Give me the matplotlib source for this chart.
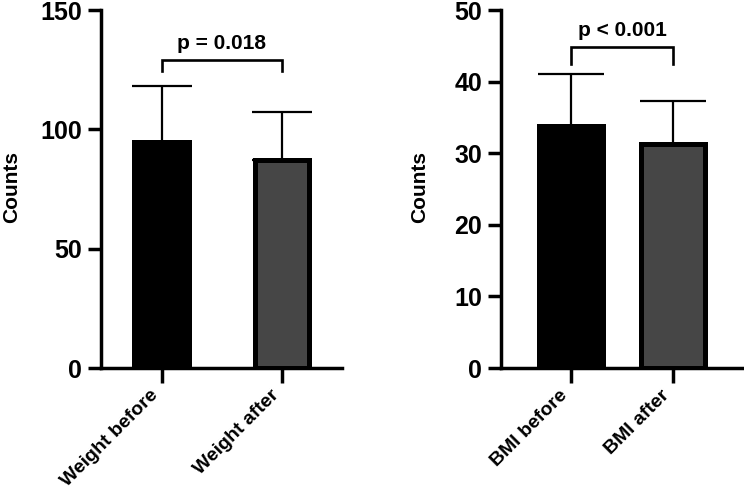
import matplotlib
matplotlib.use("Agg")
import matplotlib.pyplot as plt

plt.rcParams['font.family'] = ['Liberation Sans', 'DejaVu Sans']
plt.rcParams['font.weight'] = 'bold'

# data
w_labels = ["Weight before", "Weight after"]
w_mean = [94.5, 87.3]
w_sd = [23.8, 20.1]
w_p = "p = 0.018"

b_labels = ["BMI before", "BMI after"]
b_mean = [33.8, 31.3]
b_sd = [7.2, 6.0]
b_p = "p < 0.001"

colors = ["black", "#464646"]

W, H = 744, 490
fig = plt.figure(figsize=(W / 100, H / 100), dpi=100)


def panel(rect, labels, mean, sd, ptext, ymax, ystep, xlim, width, cap, br_y, br_leg, ylab_x):
    ax = fig.add_axes(rect)
    x = range(len(labels))
    ax.bar(x, mean, width=width, color=colors, edgecolor="black", linewidth=3.6, zorder=2)
    for i in x:
        ax.errorbar(i, mean[i], yerr=[[0], [sd[i]]], fmt="none", ecolor="black",
                    elinewidth=1.6, capsize=cap, capthick=1.6, zorder=1)
    # significance bracket
    ax.plot([0, 0, 1, 1], [br_leg, br_y, br_y, br_leg], color="black", lw=1.9,
            solid_joinstyle="miter", clip_on=False)
    ax.annotate(ptext, (0.5, br_y), xytext=(0, 5), textcoords="offset points",
                ha="center", va="bottom", fontsize=15, fontweight="bold")

    ax.set_xlim(*xlim)
    ax.set_ylim(0, ymax)
    ax.set_yticks(range(0, ymax + 1, ystep))
    ax.set_xticks(list(x))
    ax.set_xticklabels(labels, rotation=45, ha="right", va="top", fontsize=14, fontweight="bold")
    for s in ["top", "right"]:
        ax.spines[s].set_visible(False)
    for s in ["left", "bottom"]:
        ax.spines[s].set_linewidth(2.5)
    ax.tick_params(axis="y", length=9.5, width=2.5, labelsize=18, pad=4)
    ax.tick_params(axis="x", length=10.5, width=2.5, pad=3)
    for lab in ax.get_yticklabels():
        lab.set_fontweight("bold")
    ax.set_ylabel("Counts", fontsize=15, fontweight="bold")
    ax.yaxis.set_label_coords(ylab_x, 0.506)
    return ax


panel([101 / W, 122 / H, 241 / W, 358 / H], w_labels, w_mean, w_sd, w_p,
      150, 50, (-0.508, 1.5), 0.458, 21.6, 128.9, 124.4, -0.33)
panel([501 / W, 122 / H, 243 / W, 358 / H], b_labels, b_mean, b_sd, b_p,
      50, 10, (-0.686, 1.696), 0.62, 23.8, 44.8, 42.4, -0.296)

fig.savefig("out.png", dpi=100)
